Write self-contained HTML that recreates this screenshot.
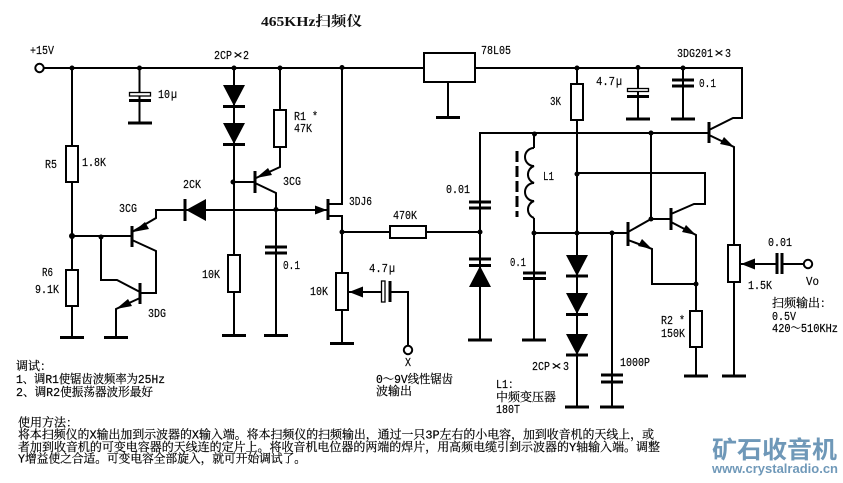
<!DOCTYPE html>
<html><head><meta charset="utf-8"><style>
html,body{margin:0;padding:0;background:#fff}
svg{display:block}
.w{fill:none;stroke:#000;stroke-width:2;stroke-linejoin:miter}
.b{fill:#fff;stroke:#000;stroke-width:2}
.g{stroke:#000;stroke-width:3;fill:none}
.t{font-family:"Liberation Mono","Noto Serif CJK SC",monospace;font-size:11.5px;fill:#000;stroke:#000;stroke-width:.15}
.c{font-family:"Liberation Mono","Noto Serif CJK SC",serif;font-size:12px;fill:#000;stroke:#000;stroke-width:.2}
</style></head><body>
<svg width="843" height="483" viewBox="0 0 843 483" xmlns="http://www.w3.org/2000/svg">
<rect width="843" height="483" fill="#fff"/>
<!-- wires -->
<path class="w" d="M44 68H424M475 68H742V118H733L709 130"/>
<path class="w" d="M72 68V236M72 236H132M72 236V337"/>
<path class="w" d="M139.500 68V123"/>
<path class="w" d="M234 68V335"/>
<path class="w" d="M280 68V167L256 178"/>
<path class="w" d="M233 182H255M255 183L276 193V335"/>
<path class="w" d="M132 240L156 251V293H140"/>
<path class="w" d="M132 232L156 218V210H328"/>
<path class="w" d="M101 236V280H117L140 292"/>
<path class="w" d="M140 298L116 309V337"/>
<path class="w" d="M342 67V204H328M328 216H342V343"/>
<path class="w" d="M342 232H480"/>
<path class="w" d="M349 292H381M390 292H408V345"/>
<path class="w" d="M480 340V133H709"/>
<path class="w" d="M534 134V148M534 218V233M534 233H628M534 233V340"/>
<path class="w" d="M577 68V407"/>
<path class="w" d="M612 233V407"/>
<path class="w" d="M628 232L651 219H671M628 240L652 249V284H696"/>
<path class="w" d="M651 133V219"/>
<path class="w" d="M671 214L694 204H705V173H577"/>
<path class="w" d="M671 222L696 235V376"/>
<path class="w" d="M709 135L734 147V376"/>
<path class="w" d="M741 264H776M782 264H804"/>
<path class="w" d="M638 68V119M683 68V119"/>
<path class="w" d="M448 82V117"/>
<!-- coil -->
<path class="w" d="M534 148A9 9 0 0 0 534 166A9 9 0 0 0 534 183A9 9 0 0 0 534 201A9 9 0 0 0 534 218"/>
<path d="M517 151V217" stroke="#000" stroke-width="3" stroke-dasharray="11 4" fill="none"/>
<!-- ground bars -->
<path class="g" d="M60 337.500H84M104 337.500H128M128 123H152M222 335.500H246M264 335.500H288M330 343.500H354M436 117.500H460M468 340H492M522 340H546M565 407H589M600 407H624M684 376H708M722 376H746M626 119H650M671 119H695"/>
<!-- transistor bars -->
<path class="g" d="M132 226V247M140 283V304M255 171V193M328 199V220M628 222V246M671 208V230M709 122V143"/>
<!-- capacitors -->
<rect x="129.500" y="92.500" width="21" height="3.500" class="b" style="stroke-width:1.300"/>
<path class="g" d="M129 100.500H151M672 80H694M672 86H694M627 96.500H649M469 202H491M469 208H491M469 259H491M469 265.500H491M265 247H287M265 253H287M523 273H546M523 278.500H546M601 375H623M601 382H623M777 253V274M782 253V274M390 281V302"/>
<rect x="627.500" y="88.500" width="21" height="3" class="b" style="stroke-width:1.300"/>
<rect x="381.500" y="281" width="3.500" height="21" class="b" style="stroke-width:1.300"/>
<!-- diodes -->
<path d="M223 85H245L234 106ZM223 123H245L234 144ZM206 199V221L186 210ZM469 287H491L480 266ZM566 255H588L577 276ZM566 293H588L577 314ZM566 334H588L577 355Z" fill="#000"/>
<path class="g" d="M223 106.500H245M223 144.500H245M185 199V221M566 276H588M566 314.500H588M566 355H588"/>
<!-- arrows -->
<path d="M256 178L268 168L272 175ZM133 232L145 222L149 229ZM116 309L128 299L132 306ZM327 210L315 205.500V214.500ZM349 292L363 286.500V297.500ZM741 264L755 258.500V269.500ZM652 249L638 246L642 239ZM696 235L682 232L686 225ZM734 147L720 144L724 137Z" fill="#000"/>
<!-- resistors, boxes -->
<rect x="66" y="146" width="12" height="36" class="b"/>
<rect x="66" y="270" width="12" height="36" class="b"/>
<rect x="228" y="255" width="12" height="37" class="b"/>
<rect x="274" y="110" width="12" height="37" class="b"/>
<rect x="336" y="273" width="12" height="37" class="b"/>
<rect x="390" y="226" width="36" height="12" class="b"/>
<rect x="571" y="84" width="12" height="36" class="b"/>
<rect x="690" y="311" width="12" height="36" class="b"/>
<rect x="728" y="245" width="12" height="37" class="b"/>
<rect x="424" y="53" width="51" height="29" class="b"/>
<!-- terminals -->
<circle cx="39.500" cy="68" r="4.200" class="b"/>
<circle cx="408" cy="350" r="4.200" class="b"/>
<circle cx="808" cy="264" r="4.200" class="b"/>
<!-- junctions -->
<g fill="#000">
<circle cx="72" cy="68" r="2.500"/><circle cx="139.500" cy="68" r="2.500"/><circle cx="234" cy="68" r="2.500"/><circle cx="280" cy="68" r="2.500"/><circle cx="342" cy="67.500" r="2.500"/>
<circle cx="577" cy="68" r="2.500"/><circle cx="638" cy="67.500" r="2.500"/><circle cx="683" cy="68" r="2.500"/>
<circle cx="72" cy="236" r="3"/><circle cx="101" cy="237" r="2.500"/><circle cx="233" cy="182" r="2.500"/><circle cx="276" cy="209.500" r="2.500"/><circle cx="342" cy="232" r="2.500"/><circle cx="480" cy="232" r="2.500"/>
<circle cx="534.500" cy="134" r="2.500"/><circle cx="534" cy="233" r="2.500"/><circle cx="577" cy="174" r="2.500"/><circle cx="577" cy="233" r="2.500"/><circle cx="612" cy="233" r="2.500"/><circle cx="651" cy="133" r="2.500"/><circle cx="651" cy="219" r="2.500"/><circle cx="696" cy="284" r="2.500"/>
</g>
<!-- labels -->
<text x="261" y="26" textLength="101" lengthAdjust="spacingAndGlyphs" style="font-family:'Liberation Serif','Noto Serif CJK SC',serif;font-size:14px;font-weight:bold;fill:#111">465KHz扫频仪</text>
<text class="t" x="30" y="54" textLength="24" lengthAdjust="spacingAndGlyphs">+15V</text>
<text class="t" x="214" y="59" textLength="18" lengthAdjust="spacingAndGlyphs">2CP</text><text class="t" x="233" y="59" textLength="10" lengthAdjust="spacingAndGlyphs">×</text><text class="t" x="243" y="59" textLength="6" lengthAdjust="spacingAndGlyphs">2</text>
<text class="t" x="158" y="98" textLength="12" lengthAdjust="spacingAndGlyphs">10</text><text class="t" x="171" y="98" textLength="6" lengthAdjust="spacingAndGlyphs">µ</text>
<text class="t" x="45" y="168" textLength="12" lengthAdjust="spacingAndGlyphs">R5</text>
<text class="t" x="82" y="166" textLength="24" lengthAdjust="spacingAndGlyphs">1.8K</text>
<text class="t" x="119" y="212" textLength="18" lengthAdjust="spacingAndGlyphs">3CG</text>
<text class="t" x="183" y="188" textLength="18" lengthAdjust="spacingAndGlyphs">2CK</text>
<text class="t" x="283" y="185" textLength="18" lengthAdjust="spacingAndGlyphs">3CG</text>
<text class="t" x="294" y="120" textLength="24" lengthAdjust="spacingAndGlyphs">R1 *</text>
<text class="t" x="294" y="132" textLength="18" lengthAdjust="spacingAndGlyphs">47K</text>
<text class="t" x="349" y="205" textLength="23" lengthAdjust="spacingAndGlyphs">3DJ6</text>
<text class="t" x="393" y="219" textLength="24" lengthAdjust="spacingAndGlyphs">470K</text>
<text class="t" x="481" y="54" textLength="30" lengthAdjust="spacingAndGlyphs">78L05</text>
<text class="t" x="550" y="105" textLength="11" lengthAdjust="spacingAndGlyphs">3K</text>
<text class="t" x="543" y="180" textLength="11" lengthAdjust="spacingAndGlyphs">L1</text>
<text class="t" x="446" y="193" textLength="24" lengthAdjust="spacingAndGlyphs">0.01</text>
<text class="t" x="596" y="85" textLength="19" lengthAdjust="spacingAndGlyphs">4.7</text><text class="t" x="616" y="85" textLength="6" lengthAdjust="spacingAndGlyphs">µ</text>
<text class="t" x="699" y="87" textLength="17" lengthAdjust="spacingAndGlyphs">0.1</text>
<text class="t" x="677" y="57" textLength="36" lengthAdjust="spacingAndGlyphs">3DG201</text><text class="t" x="714" y="57" textLength="10" lengthAdjust="spacingAndGlyphs">×</text><text class="t" x="725" y="57" textLength="6" lengthAdjust="spacingAndGlyphs">3</text>
<text class="t" x="42" y="276" textLength="11" lengthAdjust="spacingAndGlyphs">R6</text>
<text class="t" x="35" y="293" textLength="24" lengthAdjust="spacingAndGlyphs">9.1K</text>
<text class="t" x="148" y="317" textLength="18" lengthAdjust="spacingAndGlyphs">3DG</text>
<text class="t" x="202" y="278" textLength="18" lengthAdjust="spacingAndGlyphs">10K</text>
<text class="t" x="283" y="269" textLength="17" lengthAdjust="spacingAndGlyphs">0.1</text>
<text class="t" x="310" y="295" textLength="18" lengthAdjust="spacingAndGlyphs">10K</text>
<text class="t" x="369" y="272" textLength="19" lengthAdjust="spacingAndGlyphs">4.7</text><text class="t" x="389" y="272" textLength="6" lengthAdjust="spacingAndGlyphs">µ</text>
<text class="t" x="510" y="266" textLength="16" lengthAdjust="spacingAndGlyphs">0.1</text>
<text class="t" x="532" y="370" textLength="18" lengthAdjust="spacingAndGlyphs">2CP</text><text class="t" x="551" y="370" textLength="11" lengthAdjust="spacingAndGlyphs">×</text><text class="t" x="563" y="370" textLength="6" lengthAdjust="spacingAndGlyphs">3</text>
<text class="t" x="620" y="366" textLength="30" lengthAdjust="spacingAndGlyphs">1000P</text>
<text class="t" x="661" y="324" textLength="24" lengthAdjust="spacingAndGlyphs">R2 *</text>
<text class="t" x="661" y="337" textLength="24" lengthAdjust="spacingAndGlyphs">150K</text>
<text class="t" x="748" y="289" textLength="24" lengthAdjust="spacingAndGlyphs">1.5K</text>
<text class="t" x="768" y="246" textLength="24" lengthAdjust="spacingAndGlyphs">0.01</text>
<text class="t" x="806" y="285" textLength="13" lengthAdjust="spacingAndGlyphs">Vo</text>
<text class="t" x="405" y="366" textLength="6" lengthAdjust="spacingAndGlyphs">X</text>
<text class="c" x="376" y="383" textLength="77" lengthAdjust="spacingAndGlyphs">0～9V线性锯齿</text>
<text class="c" x="376" y="395" textLength="36" lengthAdjust="spacingAndGlyphs">波输出</text>
<text class="t" x="496" y="388" textLength="12" lengthAdjust="spacingAndGlyphs">L1</text><text class="c" x="508" y="388">：</text>
<text class="c" x="496" y="401" textLength="60" lengthAdjust="spacingAndGlyphs">中频变压器</text>
<text class="t" x="496" y="413" textLength="24" lengthAdjust="spacingAndGlyphs">180T</text>
<text class="c" x="772" y="307">扫频输出：</text>
<text class="t" x="772" y="320" textLength="24" lengthAdjust="spacingAndGlyphs">0.5V</text>
<text class="c" x="772" y="332" textLength="66" lengthAdjust="spacingAndGlyphs">420～510KHz</text>
<text class="c" x="16" y="370">调试：</text>
<text class="c" x="16" y="383" textLength="149" lengthAdjust="spacingAndGlyphs">1、调R1使锯齿波频率为25Hz</text>
<text class="c" x="16" y="396" textLength="137" lengthAdjust="spacingAndGlyphs">2、调R2使振荡器波形最好</text>
<text class="c" x="18" y="426.500">使用方法：</text>
<text class="c" x="18" y="438.500" textLength="636" lengthAdjust="spacingAndGlyphs">将本扫频仪的X输出加到示波器的X输入端。将本扫频仪的扫频输出，通过一只3P左右的小电容，加到收音机的天线上，或</text>
<text class="c" x="18" y="451" textLength="642" lengthAdjust="spacingAndGlyphs">者加到收音机的可变电容器的天线连的定片上。将收音机电位器的两端的焊片，用高频电缆引到示波器的Y轴输入端。调整</text>
<text class="c" x="18" y="462.500" textLength="288" lengthAdjust="spacingAndGlyphs">Y增益使之合适。可变电容全部旋入，就可开始调试了。</text>
<!-- logo -->
<text x="712" y="458" textLength="125" lengthAdjust="spacingAndGlyphs" style="font-family:'Noto Sans CJK SC',sans-serif;font-size:24px;font-weight:bold;fill:#6f98b8">矿石收音机</text>
<text x="712" y="473" textLength="126" lengthAdjust="spacingAndGlyphs" style="font-family:'Liberation Sans',sans-serif;font-size:13px;font-weight:bold;fill:#7099b9">www.crystalradio.cn</text>
</svg>
</body></html>
